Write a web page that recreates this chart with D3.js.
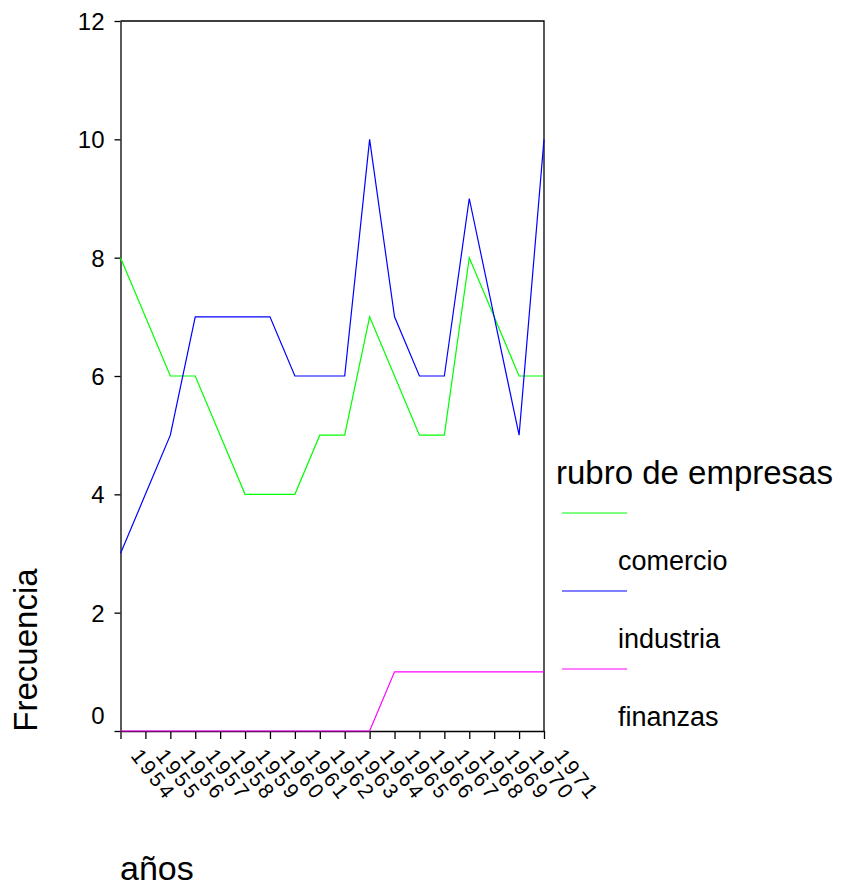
<!DOCTYPE html>
<html>
<head>
<meta charset="utf-8">
<script src="https://cdnjs.cloudflare.com/ajax/libs/d3/7.8.5/d3.min.js"></script>
<style>
  body { margin: 0; background: #fff; }
  text { font-family: "Liberation Sans", Arial, sans-serif; fill: #000; }
</style>
</head>
<body>
<script>
var years = ["1954","1955","1956","1957","1958","1959","1960","1961","1962",
             "1963","1964","1965","1966","1967","1968","1969","1970","1971"];
var comercio  = [8,7,6,6,5,4,4,4,5,5,7,6,5,5,8,7,6,6];
var industria = [3,4,5,7,7,7,7,6,6,6,10,7,6,6,9,7,5,10];
var finanzas  = [0,0,0,0,0,0,0,0,0,0,0,1,1,1,1,1,1,1];
var yTicks = [0,2,4,6,8,10,12];

var seriesNames = ["comercio", "industria", "finanzas"];
var seriesValues = [comercio, industria, finanzas];
var colors = ["#00ff00", "#0000ff", "#ff00ff"];

var width = 851, height = 887;
var plot = {left: 120.5, right: 544, top: 21, bottom: 731};

var svg = d3.select("body")
    .append("svg")
    .attr("width", width)
    .attr("height", height);

var xScale = d3.scalePoint()
    .domain(years)
    .range([plot.left, plot.right]);

var yScale = d3.scaleLinear()
    .domain([0, 12])
    .range([plot.bottom, plot.top]);

// frame top + right
svg.append("path")
    .attr("d", "M" + plot.left + "," + plot.top + "H" + plot.right + "V" + plot.bottom)
    .attr("fill", "none")
    .attr("stroke", "#000")
    .attr("stroke-width", 1.3);

// y axis
var yAxis = d3.axisLeft(yScale)
    .tickValues(yTicks)
    .tickSize(6)
    .tickSizeOuter(0)
    .tickPadding(10);

var gy = svg.append("g")
    .attr("transform", "translate(" + plot.left + ",0)")
    .call(yAxis);
gy.selectAll("text")
    .style("font-size", "24px")
    .attr("dy", function(d) { return d == 0 ? "-0.3em" : "0.35em"; });

// x axis
var xAxis = d3.axisBottom(xScale)
    .tickSize(8)
    .tickSizeOuter(0);

var gx = svg.append("g")
    .attr("transform", "translate(0," + plot.bottom + ")")
    .call(xAxis);
gx.selectAll("text")
    .attr("x", 0)
    .attr("y", 0)
    .attr("dy", 0)
    .attr("transform", "translate(9,25) rotate(52)")
    .style("text-anchor", "start")
    .style("font-size", "21px")
    .style("letter-spacing", "3px");

svg.selectAll(".domain, .tick line")
    .attr("stroke", "#000")
    .attr("stroke-width", 1.3);
svg.selectAll(".tick text").attr("fill", "#000");

// lines
var line = d3.line()
    .x(function(d, i) { return xScale(years[i]); })
    .y(function(d) { return yScale(d); });

svg.selectAll(".series")
    .data(seriesValues)
    .enter()
    .append("path")
    .attr("class", "series")
    .attr("d", line)
    .attr("fill", "none")
    .attr("stroke", function(d, i) { return colors[i]; })
    .attr("stroke-width", 1.2);

// axis titles
svg.append("text")
    .attr("transform", "translate(37,650) rotate(-90)")
    .style("text-anchor", "middle")
    .style("font-size", "33px")
    .text("Frecuencia");

svg.append("text")
    .attr("x", 120)
    .attr("y", 880)
    .style("font-size", "34px")
    .text("años");

// legend
svg.append("text")
    .attr("x", 556)
    .attr("y", 484)
    .style("font-size", "33px")
    .text("rubro de empresas");

var legend = svg.selectAll(".legend")
    .data(seriesNames)
    .enter()
    .append("g")
    .attr("class", "legend")
    .attr("transform", function(d, i) { return "translate(0," + (i * 78) + ")"; });

legend.append("line")
    .attr("x1", 562)
    .attr("x2", 627)
    .attr("y1", 513)
    .attr("y2", 513)
    .attr("stroke", function(d, i) { return colors[i]; })
    .attr("stroke-width", 1.2);

legend.append("text")
    .attr("x", 618)
    .attr("y", 570)
    .style("font-size", "27px")
    .text(function(d) { return d; });
</script>
</body>
</html>
